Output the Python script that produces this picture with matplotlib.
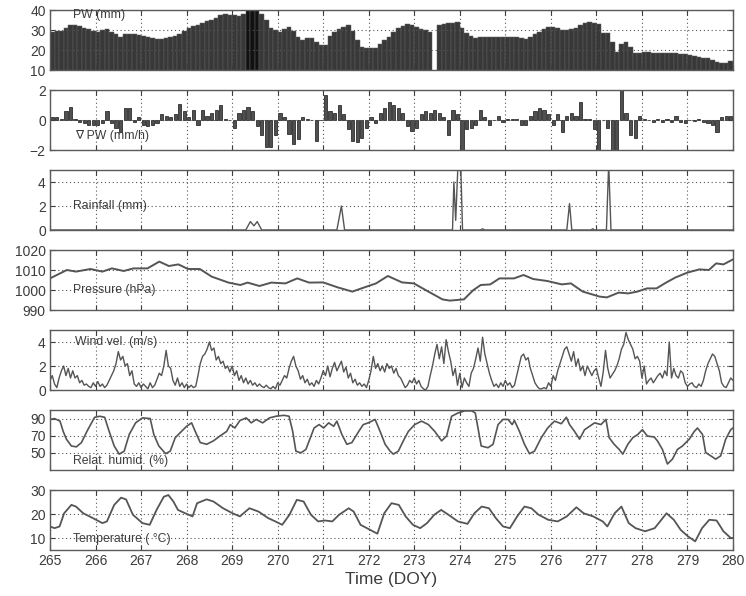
import numpy as np
import matplotlib.pyplot as plt

plt.rcParams['font.family'] = ['Liberation Sans', 'DejaVu Sans']

#------------------------------------------------------------------------------
#   Data
#------------------------------------------------------------------------------
# precipitable water, 0.1 day steps from DOY 265.0
pw = [29, 29.5, 29.5, 31, 32.5, 32.5, 32, 31, 30.5, 29.5,
      29, 30, 30.3, 29, 28, 26.5, 28, 28.2, 28, 27.5,
      27, 26.5, 26, 25.5, 25.5, 26, 26.5, 27, 28, 29.5,
      31, 32, 32.5, 33.5, 34.5, 35, 36, 37.5, 38, 37.5,
      37.5, 37, 38, 41, 41, 41, 38, 35, 31, 30,
      29, 30.5, 31.7, 29.5, 26.5, 25, 25.8, 26, 24, 22.5,
      22.5, 27, 29, 30.5, 31.5, 32.5, 29.5, 25, 21.5, 21,
      21, 21, 23, 25, 26.5, 29, 31, 32, 33, 32.5,
      31.7, 30.5, 30, 29, 0, 32.5, 33, 33.3, 33.5, 34.2,
      31, 28.5, 27, 26, 26.5, 26.7, 26.7, 26.7, 26.7, 26.7,
      26.7, 26.5, 26.5, 26, 25.5, 26.5, 28, 29, 30.5, 31.5,
      31.5, 30.8, 30, 30, 30.5, 31, 32.5, 33.5, 34.2, 33.5,
      33, 28.3, 28.3, 24, 19, 23, 24, 21.5, 18.5, 18.5,
      18.8, 18.8, 18.7, 18.6, 18.5, 18.5, 18.4, 18.3, 18, 17.8,
      17.5, 17, 16.5, 16, 15.8, 15, 14, 13.5, 13.7, 14.5]

# PW tendency (mm/h), 0.1 day steps from DOY 265.0
dpw = [0.2, 0.2, 0.1, 0.6, 0.9, 0.1, -0.1, -0.2, -0.3, -0.3,
       -0.3, -0.2, 0.6, -0.2, -0.5, -0.8, 0.8, 0.8, -0.1, 0.2,
       -0.3, -0.4, -0.3, -0.2, 0.4, 0.3, 0.2, 0.4, 1.1, 0.6,
       0.2, 0.7, -0.3, 0.7, 0.3, 0.5, 0.7, 1.0, 0.1, 0.0,
       -0.5, 0.5, 0.7, 0.9, 0.6, -0.4, -1.0, -1.8, -1.8, -1.0,
       0.5, 0.2, -0.9, -1.6, -1.3, 0.2, 0.1, 0.0, -1.4, 0.0,
       1.7, 0.6, 0.5, 1.0, 0.4, -0.6, -1.4, -1.5, -1.2, -0.5,
       0.2, -0.2, 0.5, 0.8, 1.2, 1.0, 0.8, 0.5, -0.4, -0.7,
       -0.5, 0.4, 0.6, 0.5, 0.7, 0.5, 0.2, -1.0, 0.7, 0.4,
       -2.0, -0.6, -0.5, -0.3, 0.7, 0.2, -0.3, 0.0, 0.3, -0.1,
       0.05, 0.1, 0.05, -0.3, -0.3, 0.3, 0.6, 0.8, 0.7, 0.4,
       -0.3, 0.4, -0.8, 0.3, 0.5, 0.3, 1.2, 0.1, 0.1, -0.6,
       -2.0, 0.0, -0.5, -2.0, -2.0, 2.0, 0.5, -1.0, -1.2, 0.3,
       0.1, 0.0, -0.1, 0.1, -0.1, 0.1, -0.1, 0.3, -0.1, -0.2,
       0.0, -0.05, 0.1, -0.1, -0.2, -0.3, -0.8, 0.2, 0.3, 0.3]

rain_t = [265.0, 269.3, 269.4, 269.48, 269.55, 269.65, 271.3, 271.4, 271.47,
          273.84, 273.87, 273.91, 273.96, 274.02, 274.06, 274.45, 274.5, 274.55,
          276.35, 276.41, 276.46, 276.88, 276.92, 276.96, 277.22, 277.27, 277.32, 280.0]
rain = [0, 0, 0.7, 0.35, 0.7, 0, 0, 2.0, 0,
        0, 4.0, 0.8, 5.5, 5.5, 0, 0, 0.1, 0,
        0, 2.2, 0, 0, 0.1, 0, 0, 5.5, 0, 0]

pres_t = [265.0, 265.37, 265.57, 265.89, 266.15, 266.36, 266.62, 266.83, 267.14, 267.4,
          267.61, 267.82, 268.03, 268.29, 268.55, 268.92, 269.18, 269.34, 269.6, 269.86,
          270.17, 270.43, 270.69, 271.0, 271.32, 271.64, 271.84, 272.16, 272.42, 272.73,
          272.99, 273.31, 273.62, 273.78, 274.09, 274.3, 274.46, 274.67, 274.87, 275.19,
          275.4, 275.61, 275.92, 276.24, 276.44, 276.7, 277.07, 277.23, 277.49, 277.7,
          277.9, 278.11, 278.32, 278.53, 278.74, 279.0, 279.26, 279.47, 279.63, 279.79, 280.0]
pres = [1005.8, 1010, 1009.2, 1010.5, 1009.2, 1010.8, 1009.5, 1010.8, 1010.8, 1014.2,
        1012, 1012.8, 1010.5, 1010.5, 1006.7, 1003.7, 1002.5, 1003.7, 1002, 1003.7,
        1003.3, 1005.8, 1003.7, 1003.8, 1001.3, 999.2, 1000.8, 1003.3, 1007, 1003.8,
        1003.3, 999.2, 995.3, 994.7, 995.3, 1000, 1002.5, 1002.8, 1005.8, 1005.8,
        1007.5, 1005.5, 1004.5, 1002.8, 1003.3, 999.2, 996.7, 996.3, 998.7, 998.3,
        999.2, 1000.8, 1000.8, 1003.7, 1006.3, 1008.7, 1010.3, 1010, 1013.3, 1012.8, 1015.3]

# wind speed, 0.05 day steps from DOY 265.0
wind = [0.8, 1.2, 0.5, 0.2, 1.0, 1.6, 2.0, 1.2, 1.8, 1.0,
        1.6, 1.0, 1.2, 0.6, 0.8, 0.4, 0.5, 0.3, 0.2, 0.6,
        0.3, 0.7, 0.3, 0.5, 0.2, 0.4, 0.8, 1.2, 1.6, 2.2,
        3.2, 2.5, 2.8, 2.0, 2.2, 1.2, 1.6, 0.5, 0.3, 0.6,
        0.2, 0.5, 0.3, 0.1, 0.6, 0.2, 0.4, 0.9, 1.4, 1.2,
        2.0, 3.3, 2.0, 1.8, 0.8, 0.4, 1.0, 0.3, 0.6, 0.2,
        0.5, 0.2, 0.4, 0.2, 0.3, 1.2, 2.2, 2.8, 3.0, 3.4,
        4.0, 3.3, 3.5, 2.5, 2.8, 2.2, 2.4, 1.8, 2.0, 1.5,
        2.0, 1.2, 1.6, 0.8, 1.2, 0.6, 1.0, 0.5, 0.8, 0.4,
        0.6, 0.3, 0.5, 0.3, 0.2, 0.4, 0.2, 0.1, 0.3, 0.1,
        0.6, 0.4, 0.8, 1.2, 1.0, 1.8, 2.4, 2.8, 2.0, 1.6,
        0.9, 1.2, 0.6, 0.9, 0.4, 0.6, 0.3, 0.8, 0.5, 1.0,
        1.6, 1.2, 2.0, 1.1, 1.8, 2.3, 1.6, 2.0, 2.4, 1.5,
        1.9, 1.0, 1.4, 0.6, 0.9, 0.4, 0.6, 0.3, 0.5, 0.2,
        0.8, 1.6, 2.8, 1.8, 2.2, 1.6, 2.0, 1.5, 2.2, 1.8,
        2.0, 1.4, 1.8, 1.2, 1.0, 0.6, 0.2, 0.4, 0.8, 0.6,
        1.0, 0.5, 0.8, 0.3, 0.1, 0.0, 0.3, 1.2, 2.0, 3.0,
        3.8, 2.6, 3.6, 2.2, 4.2, 3.2, 2.4, 1.2, 1.8, 0.4,
        1.4, 0.2, 1.0, 0.6, 0.3, 1.4, 1.8, 2.6, 3.5, 2.4,
        4.4, 3.0, 2.2, 1.4, 0.8, 0.3, 0.5, 0.2, 0.6, 0.3,
        0.8, 0.4, 0.6, 0.2, 0.4, 1.2, 2.0, 2.8, 3.0, 2.5,
        2.7, 1.8, 1.2, 0.6, 0.3, 0.1, 0.1, 0.2, 0.1, 0.6,
        0.3, 1.2, 0.8, 1.6, 2.2, 2.8, 3.4, 3.6, 3.0, 2.4,
        3.2, 2.0, 2.6, 1.6, 2.0, 1.2, 2.0, 1.6, 1.2, 1.6,
        1.8, 1.0, 0.3, 1.5, 3.3, 1.8, 1.0, 1.3, 1.6, 2.0,
        2.6, 3.4, 3.8, 4.8, 4.2, 3.8, 3.4, 2.6, 2.8, 2.4,
        1.0, 2.0, 0.5, 0.8, 1.0, 0.6, 0.9, 1.2, 1.4, 1.0,
        1.6, 1.2, 4.0, 1.0, 1.8, 1.2, 1.0, 1.6, 1.4, 0.6,
        0.3, 0.5, 0.6, 0.3, 0.2, 0.5, 0.3, 0.8, 1.6, 2.2,
        2.6, 3.0, 2.8, 2.2, 1.6, 0.6, 0.3, 0.2, 0.6, 1.0, 0.8]

rh_t = [265.0, 265.1, 265.22, 265.29, 265.36, 265.47, 265.58, 265.69, 265.83, 265.98,
        266.09, 266.2, 266.3, 266.41, 266.52, 266.63, 266.74, 266.88, 267.03, 267.2,
        267.28, 267.39, 267.54, 267.64, 267.75, 267.86, 268.0, 268.11, 268.19, 268.3,
        268.44, 268.59, 268.73, 268.88, 268.96, 269.06, 269.17, 269.31, 269.42, 269.53,
        269.67, 269.82, 269.96, 270.14, 270.25, 270.33, 270.4, 270.51, 270.62, 270.72,
        270.8, 270.91, 271.01, 271.12, 271.23, 271.3, 271.41, 271.52, 271.63, 271.78,
        271.88, 271.99, 272.14, 272.25, 272.36, 272.47, 272.54, 272.65, 272.76, 272.87,
        273.01, 273.16, 273.31, 273.45, 273.6, 273.71, 273.82, 273.96, 274.11, 274.26,
        274.34, 274.4, 274.47, 274.62, 274.73, 274.84, 274.95, 275.06, 275.15, 275.2,
        275.31, 275.42, 275.53, 275.64, 275.79, 275.93, 276.08, 276.23, 276.34, 276.41,
        276.52, 276.63, 276.74, 276.85, 276.96, 277.1, 277.21, 277.28, 277.39, 277.5,
        277.58, 277.69, 277.8, 277.91, 278.01, 278.12, 278.27, 278.34, 278.45, 278.56,
        278.67, 278.78, 278.89, 279.04, 279.15, 279.22, 279.33, 279.4, 279.51, 279.62,
        279.73, 279.84, 279.95, 280.0]
rh = [89, 90, 87, 75, 66, 58, 57, 62, 77, 91.5,
      92.7, 91.5, 75, 58, 48.5, 52, 71.5, 85, 90.8, 90,
      71.5, 58, 49, 52, 67.7, 73.5, 81, 85, 75, 62,
      60, 64, 69.6, 75, 83, 79, 87.7, 90.8, 85, 89,
      85, 90.8, 92.7, 93.8, 92.7, 75, 52, 50, 54, 67.7,
      79, 83, 79, 85, 81, 87, 71.5, 60, 62, 75,
      83, 85, 89, 75, 60, 52, 48.5, 52, 64, 75,
      83, 87, 83, 75, 64, 69.6, 92.7, 96.5, 99, 99,
      96.5, 79, 58, 56, 60, 83, 89, 89, 83, 87.7,
      75, 60, 49, 52, 67.7, 79, 87, 84, 91.5, 83,
      75, 66, 77, 81, 85, 83, 89, 67.7, 60, 54,
      48.5, 60, 67.7, 71.5, 77, 69.6, 68.5, 64, 54, 37,
      42.7, 54, 58, 66, 75, 79, 71.5, 50.4, 46.5, 42.7,
      46.5, 66, 77, 79]

temp_t = [265.0, 265.1, 265.21, 265.31, 265.47, 265.57, 265.73, 265.94, 266.15, 266.25,
          266.41, 266.56, 266.67, 266.82, 267.03, 267.19, 267.34, 267.5, 267.6, 267.71,
          267.81, 267.97, 268.13, 268.23, 268.44, 268.59, 268.8, 269.01, 269.17, 269.38,
          269.58, 269.79, 269.95, 270.1, 270.26, 270.42, 270.57, 270.73, 270.89, 271.04,
          271.2, 271.35, 271.56, 271.67, 271.82, 272.03, 272.19, 272.34, 272.5, 272.66,
          272.81, 272.97, 273.13, 273.28, 273.44, 273.59, 273.75, 273.96, 274.17, 274.32,
          274.48, 274.64, 274.79, 274.95, 275.1, 275.26, 275.42, 275.57, 275.73, 275.94,
          276.15, 276.35, 276.56, 276.72, 276.93, 277.14, 277.24, 277.4, 277.55, 277.71,
          277.86, 278.07, 278.28, 278.54, 278.7, 278.85, 279.01, 279.17, 279.32, 279.48,
          279.64, 279.79, 279.95, 280.0]
temp = [14.8, 14.1, 14.8, 20.3, 23.8, 23.1, 20.3, 18.3, 16.2, 16.9,
        23.8, 26.8, 26.1, 19.7, 16.2, 15.5, 21.7, 27.2, 27.9, 25.2,
        21.7, 20.3, 19, 24.5, 26.1, 25.2, 22.4, 20.3, 19, 22.4,
        21, 18.3, 16.9, 15.5, 19.7, 25.9, 25.2, 19.7, 16.9, 17.3,
        16.9, 19.7, 22.4, 21, 15.5, 13.4, 11.8, 20.3, 24.5, 23.8,
        19, 15.5, 14.1, 16.2, 19.7, 21.7, 19.7, 16.9, 15.9, 20.3,
        23.1, 22.4, 18.3, 14.8, 14.1, 19, 23.1, 22.4, 19.7, 17.6,
        16.9, 19, 22.8, 20.3, 19, 16.9, 14.8, 20.3, 23.1, 16.2,
        14.1, 12.8, 14.1, 20.3, 17.6, 13.4, 10.7, 8.6, 14.1, 17.6,
        17.3, 12.8, 10, 10]

#------------------------------------------------------------------------------
#   Figure
#------------------------------------------------------------------------------
W, H = 746, 596
fig = plt.figure(figsize=(W / 100, H / 100), dpi=100)

tops = [10, 90, 170, 250, 330, 410, 490]
ph = 60
x0, x1 = 50, 733
axes = [fig.add_axes([x0 / W, 1 - (t + ph) / H, (x1 - x0) / W, ph / H]) for t in tops]

txt_col = '#3c3c3c'
line_col = '#555555'


def style(ax, ylim, yticks, bottom=False):
    ax.set_xlim(265, 280)
    ax.set_ylim(*ylim)
    ax.set_yticks(yticks)
    ax.set_xticks(range(265, 281))
    ax.grid(True, linestyle=(0, (1, 2.5)), color='#555555', linewidth=0.8)
    ax.tick_params(direction='in', top=True, right=True, length=3.5,
                   labelsize=10, colors=txt_col, width=0.8, pad=3)
    if not bottom:
        ax.tick_params(labelbottom=False)
    for s in ax.spines.values():
        s.set_color('#5a5a5a')
        s.set_linewidth(1.0)


def label(ax, x, y, s):
    ax.text(x, y, s, fontsize=8.8, color=txt_col, va='center', ha='left')


# PW
ax = axes[0]
pw_t = np.linspace(265, 280, len(pw) + 1)[:-1]
pw_arr = np.array(pw)
cols = ['#111111' if v >= 40 else '#383838' for v in pw_arr]
ax.bar(pw_t, pw_arr, width=0.1, align='edge', color=cols,
       edgecolor='#606060', linewidth=0.35)
style(ax, (10, 40), [10, 20, 30, 40])
label(ax, 265.5, 37.3, 'PW (mm)')

# dPW
ax = axes[1]
dpw_t = np.linspace(265, 280, len(dpw) + 1)[:-1] + 0.05
ax.bar(dpw_t, dpw, width=0.07, color='#505050', edgecolor='#151515', linewidth=0.5)
style(ax, (-2, 2), [-2, 0, 2])
label(ax, 265.55, -1.05, '∇ PW (mm/h)')

# rainfall
ax = axes[2]
ax.plot(rain_t, rain, color=line_col, linewidth=1.0)
style(ax, (0, 5), [0, 2, 4])
label(ax, 265.5, 2.0, 'Rainfall (mm)')

# pressure
ax = axes[3]
ax.plot(pres_t, pres, color=line_col, linewidth=1.4)
style(ax, (990, 1020), [990, 1000, 1010, 1020])
label(ax, 265.5, 1000, 'Pressure (hPa)')

# wind
ax = axes[4]
wind_t = np.linspace(265, 280, len(wind))
ax.plot(wind_t, wind, color=line_col, linewidth=1.0)
style(ax, (0, 5), [0, 2, 4])
label(ax, 265.55, 4.0, 'Wind vel. (m/s)')

# relative humidity
ax = axes[5]
ax.plot(rh_t, rh, color=line_col, linewidth=1.2)
style(ax, (30, 100), [50, 70, 90])
label(ax, 265.5, 40.5, 'Relat. humid. (%)')

# temperature
ax = axes[6]
ax.plot(temp_t, temp, color=line_col, linewidth=1.3)
style(ax, (5, 30), [10, 20, 30], bottom=True)
label(ax, 265.5, 9.5, 'Temperature ( °C)')
ax.set_xlabel('Time (DOY)', fontsize=12.5, color=txt_col, labelpad=3)

fig.savefig('out.png', dpi=100)
